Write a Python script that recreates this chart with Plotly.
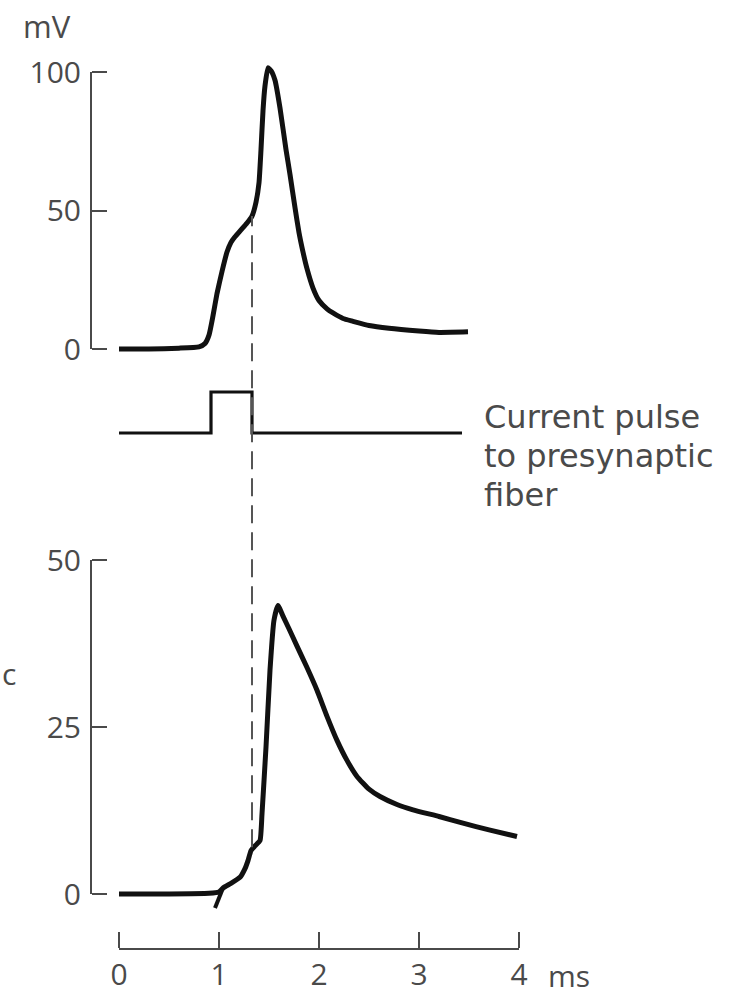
import plotly.graph_objects as go

W, H = 745, 996

# ---------------- data ----------------
top_t = [0.0, 0.3, 0.6, 0.8, 0.86, 0.9, 0.94, 0.98, 1.03, 1.08, 1.12, 1.16, 1.22, 1.28, 1.33,
         1.37, 1.40, 1.42, 1.44, 1.46, 1.49, 1.52, 1.56, 1.61, 1.67, 1.71, 1.76, 1.80, 1.84,
         1.88, 1.94, 2.0, 2.08, 2.14, 2.24, 2.34, 2.5, 2.7, 3.0, 3.2, 3.49]
top_mv = [0.0, 0.0, 0.3, 0.8, 2.0, 5.0, 12.0, 20.0, 28.0, 35.0, 38.5, 40.5, 43.0, 45.5, 48.0,
          53.0, 60.0, 72.0, 86.0, 95.0, 101.5, 100.5, 97.0, 87.0, 72.0, 63.0, 51.0, 42.0, 35.0,
          29.0, 22.0, 17.5, 14.5, 13.0, 11.0, 10.0, 8.5, 7.5, 6.5, 6.0, 6.2]

pulse_t = [0.0, 0.92, 0.92, 1.33, 1.33, 3.43]
pulse_level = [0, 0, 1, 1, 0, 0]

bot_t = [0.0, 0.5, 0.9, 1.0, 1.04, 1.12, 1.21, 1.26, 1.29, 1.32, 1.36, 1.41, 1.43, 1.47,
         1.51, 1.55, 1.59, 1.64, 1.70, 1.78, 1.88, 1.98, 2.08, 2.18, 2.28, 2.38, 2.5, 2.61,
         2.78, 2.94, 3.2, 3.44, 3.7, 3.98]
bot_v = [0.0, 0.0, 0.1, 0.3, 0.9, 1.6, 2.5, 3.8, 5.0, 6.5, 7.2, 8.0, 12.0, 22.0,
         33.5, 41.0, 43.2, 41.6, 39.7, 37.1, 33.9, 30.5, 26.6, 23.0, 20.0, 17.6, 15.7, 14.6,
         13.4, 12.6, 11.6, 10.6, 9.6, 8.6]

artifact_t = [0.96, 1.04]
artifact_v = [-2.1, 0.9]

dash_t = 1.33
dash_top_mv = 48.0
dash_bottom_v = 7.0

x_ticks = [0, 1, 2, 3, 4]
top_ticks = [0, 50, 100]
bot_ticks = [0, 25, 50]

# ---------------- geometry (pixels in the 745x996 page) ----------------
X0_PX, X4_PX = 119, 519
TOP0_PX, TOP100_PX = 349, 72
BOT0_PX, BOT50_PX = 894, 560
PLO_PX, PHI_PX = 433, 392
YAXIS_X_PX = 90
XAXIS_Y_PX = 950


def val_at(px, v0, p0, v1, p1):
    """linear map: value at pixel px given (v0 at p0) and (v1 at p1)"""
    return v0 + (px - p0) * (v1 - v0) / (p1 - p0)


x_range = [val_at(0, 0, X0_PX, 4, X4_PX), val_at(W, 0, X0_PX, 4, X4_PX)]
top_range = [val_at(H, 0, TOP0_PX, 100, TOP100_PX), val_at(0, 0, TOP0_PX, 100, TOP100_PX)]
pulse_range = [val_at(H, 0, PLO_PX, 1, PHI_PX), val_at(0, 0, PLO_PX, 1, PHI_PX)]
bot_range = [val_at(H, 0, BOT0_PX, 50, BOT50_PX), val_at(0, 0, BOT0_PX, 50, BOT50_PX)]

# dashed line top end (on the top trace) expressed in bottom-axis units
dash_top_px = val_at(dash_top_mv, TOP0_PX, 0, TOP100_PX, 100)
dash_top_in_bot = val_at(dash_top_px, 0, BOT0_PX, 50, BOT50_PX)

TRACE = "#111111"
AX = "#4a4a4a"
TXT = "#4a4a4a"
FONT = "Open Sans"

fig = go.Figure()

fig.add_trace(go.Scatter(x=top_t, y=top_mv, mode="lines", xaxis="x", yaxis="y",
                         line=dict(color=TRACE, width=5, shape="spline", smoothing=0.45)))
fig.add_trace(go.Scatter(x=pulse_t, y=pulse_level, mode="lines", xaxis="x", yaxis="y2",
                         line=dict(color=TRACE, width=3.2)))
fig.add_trace(go.Scatter(x=bot_t, y=bot_v, mode="lines", xaxis="x", yaxis="y3",
                         line=dict(color=TRACE, width=5, shape="spline", smoothing=0.45)))
fig.add_trace(go.Scatter(x=artifact_t, y=artifact_v, mode="lines", xaxis="x", yaxis="y3",
                         line=dict(color=TRACE, width=4)))
fig.add_trace(go.Scatter(x=[dash_t, dash_t], y=[dash_bottom_v, dash_top_in_bot], mode="lines",
                         xaxis="x", yaxis="y3",
                         line=dict(color="#555555", width=2, dash="18px,9px")))

# empty traces so that every display axis gets drawn
for xa, ya in [("x3", "y4"), ("x3", "y5"), ("x2", "y6"), ("x4", "y7"), ("x4", "y8"), ("x5", "y9")]:
    fig.add_trace(go.Scatter(x=[], y=[], xaxis=xa, yaxis=ya, hoverinfo="skip"))

hidden = dict(visible=False, showgrid=False, zeroline=False, fixedrange=True)
tickfont = dict(family=FONT, size=30, color=TXT)
# axis line + ticks (ticks point away from the hidden counter domain)
line_ax = dict(ticks="outside", tickwidth=2, tickcolor=AX, showticklabels=False,
               showline=True, linewidth=2, linecolor=AX, showgrid=False, zeroline=False,
               fixedrange=True, automargin=False)
# tick labels only
label_ax = dict(ticks="", showline=False, showgrid=False, zeroline=False,
                tickfont=tickfont, fixedrange=True, automargin=False)

top_dom = [1 - TOP0_PX / H, 1 - TOP100_PX / H]
bot_dom = [1 - BOT0_PX / H, 1 - BOT50_PX / H]
x_dom = [X0_PX / W, X4_PX / W]

fig.update_layout(
    width=W, height=H,
    margin=dict(l=0, r=0, t=0, b=0, autoexpand=False),
    paper_bgcolor="white",
    plot_bgcolor="rgba(0,0,0,0)",
    showlegend=False,
    xaxis=dict(domain=[0, 1], range=x_range, anchor="y", **hidden),
    yaxis=dict(domain=[0, 1], range=top_range, anchor="x", **hidden),
    yaxis2=dict(domain=[0, 1], range=pulse_range, anchor="x", overlaying="y", **hidden),
    yaxis3=dict(domain=[0, 1], range=bot_range, anchor="x", overlaying="y", **hidden),
    # hidden counter-axes whose domain edges place the visible axis lines
    xaxis3=dict(domain=[0, YAXIS_X_PX / W], range=[0, 1], anchor="y4", **hidden),
    xaxis4=dict(domain=[YAXIS_X_PX / W, 1], range=[0, 1], anchor="y7", **hidden),
    yaxis6=dict(domain=[0, 1 - XAXIS_Y_PX / H], range=[0, 1], anchor="x2", **hidden),
    yaxis9=dict(domain=[1 - XAXIS_Y_PX / H, 1], range=[0, 1], anchor="x5", **hidden),
    # time axis: line + upward ticks, and its labels below
    xaxis2=dict(domain=x_dom, range=[0, 4], anchor="y6", side="top",
                tickvals=x_ticks, ticklen=16, **line_ax),
    xaxis5=dict(domain=x_dom, range=[0, 4], anchor="y9", side="bottom",
                tickvals=x_ticks, ticktext=[str(v) for v in x_ticks],
                ticklabelstandoff=4, **label_ax),
    # top voltage axis
    yaxis4=dict(domain=top_dom, range=[0, 100], anchor="x3", side="right",
                tickvals=top_ticks, ticklen=15, **line_ax),
    yaxis7=dict(domain=top_dom, range=[0, 100], anchor="x4", side="left",
                tickvals=top_ticks, ticktext=[str(v) for v in top_ticks],
                ticklabelstandoff=8, **label_ax),
    # bottom voltage axis
    yaxis5=dict(domain=bot_dom, range=[0, 50], anchor="x3", side="right",
                tickvals=bot_ticks, ticklen=15, **line_ax),
    yaxis8=dict(domain=bot_dom, range=[0, 50], anchor="x4", side="left",
                tickvals=bot_ticks, ticktext=[str(v) for v in bot_ticks],
                ticklabelstandoff=8, **label_ax),
)


def ann(text, xpx, ypx, xanchor="left", size=30, family=FONT):
    fig.add_annotation(text=text, x=xpx / W, y=1 - ypx / H, xref="paper", yref="paper",
                       xanchor=xanchor, yanchor="middle", showarrow=False,
                       font=dict(family=family, size=size, color=TXT))


ann("mV", 21, 26, size=31)
ann("ms", 546, 975)
ann("Current pulse", 482, 417, size=32, family="DejaVu Sans")
ann("to presynaptic", 482, 456, size=32, family="DejaVu Sans")
ann("fiber", 482, 495, size=32, family="DejaVu Sans")
ann("c", 18, 673, xanchor="right")

# remove the browser's default 8px page margin so the figure sits at the page origin
fig.write_html("out.html", config={"displayModeBar": False},
               post_script="document.body.style.margin='0';document.body.style.overflow='hidden';")
